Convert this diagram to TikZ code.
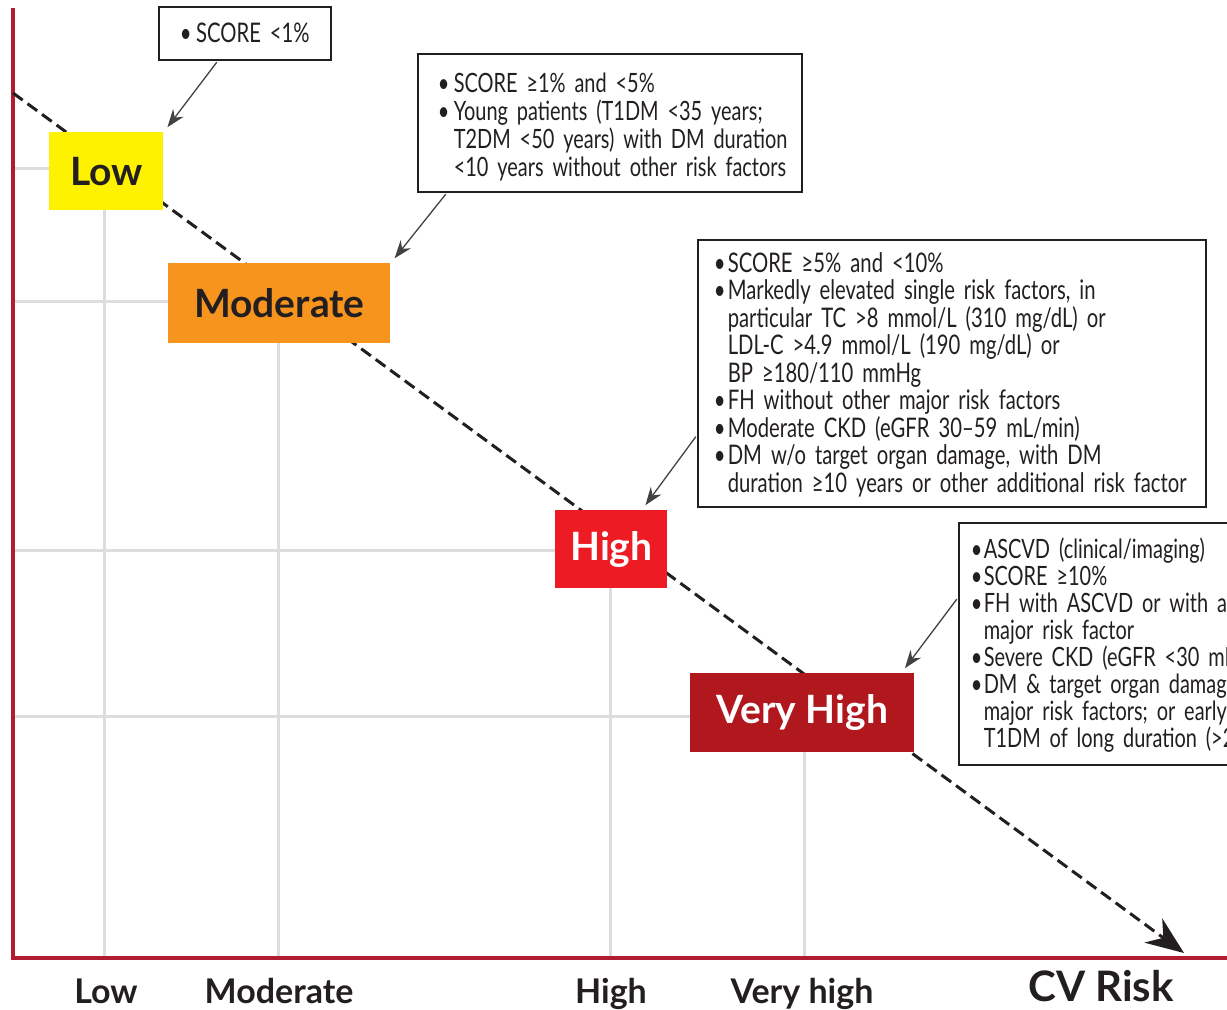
\documentclass[tikz,border=0pt]{standalone}
\usepackage{fontspec}
\setmainfont{Lato}
\newfontfamily\condfont[FakeStretch=0.75]{Lato}
\usetikzlibrary{calc}
\usetikzlibrary{positioning}
\usetikzlibrary{arrows.meta}

\definecolor{axisred}{RGB}{178,28,48}
\definecolor{gridgray}{RGB}{221,221,224}
\definecolor{lowyellow}{RGB}{255,242,0}
\definecolor{modorange}{RGB}{247,148,29}
\definecolor{highred}{RGB}{237,28,36}
\definecolor{vhighred}{RGB}{176,24,30}
\definecolor{inkblack}{RGB}{35,31,32}

\hyphenpenalty=10000
\exhyphenpenalty=10000

% bullet with hanging indent for the criteria boxes
\newcommand{\riskitem}[1][7pt]{\par\hangindent=#1\hangafter=1\noindent\makebox[#1][l]{\textbullet}}

\begin{document}
\begin{tikzpicture}[x=0.5pt,y=0.5pt,yscale=-1,xscale=1,
    gridline/.style={draw=gridgray,line width=1.5pt},
    axisline/.style={draw=axisred,line width=1.6pt},
    trendline/.style={draw=inkblack,line width=1.5pt,dash pattern=on 6pt off 3pt,-{Stealth[length=19pt,width=15pt]}},
    pointer/.style={draw=inkblack!85,line width=0.65pt,shorten <=1pt,shorten >=3pt,-{Stealth[length=9pt,width=6.5pt]}},
    levelbox/.style={anchor=north west,inner sep=0pt,minimum height=39pt,font=\bfseries\fontsize{19.5}{22}\selectfont},
    riskbox/.style={draw=inkblack,line width=0.8pt,fill=white,anchor=north west,inner ysep=0pt,inner xsep=2pt,align=left,text=inkblack,
        font=\condfont\fontsize{13.5}{13.75}\selectfont},
    axislabel/.style={anchor=base,text=inkblack,font=\bfseries\fontsize{17}{19}\selectfont}]
    \useasboundingbox (0,0) rectangle (1227,1009);
    \clip (0,0) rectangle (1227,1009);

    %Grid lines [one per risk level]
    \foreach \gx/\gy in {104/168, 278/301, 610/550, 804/716}
        \draw[gridline] (13,\gy) -| (\gx,958);

    %Axes
    \draw[axisline] (13,8) -- (13,958) -- (1227,958);

    %Dashed risk trend
    \coordinate (trendstart) at (13,93);
    \coordinate (trendend) at (1184,953);
    \draw[trendline] (trendstart) -- (trendend);

    % Level boxes
    \node[levelbox,fill=lowyellow,text=inkblack,minimum width=57pt] (low) at (49,132) {Low};
    \node[levelbox,fill=modorange,text=inkblack,minimum width=111pt,minimum height=40pt] (moderate) at (168,263) {Moderate};
    \node[levelbox,fill=highred,text=white,minimum width=56pt] (high) at (555,510) {High};
    \node[levelbox,fill=vhighred,text=white,minimum width=112pt,minimum height=39.5pt] (veryhigh) at (690,673) {Very High};

    % Text Node
    \node[riskbox,align=center,text width=78pt,inner xsep=4pt,minimum height=26.5pt] (scorelow) at (158,6) {\textbullet\,SCORE <1\%};
    % Text Node
    \node[riskbox,text width=188pt,minimum height=69pt,font=\condfont\fontsize{13.3}{14}\selectfont] (scoremod) at (417,53) {%
        \leftskip=8pt
        \riskitem[8pt]SCORE ≥1\% and <5\%
        \riskitem[8pt]Young patients (T1DM <35 years;\newline T2DM <50 years) with DM duration\newline <10 years without other risk factors\par};
    % Text Node
    \node[riskbox,text width=250pt,minimum height=133.5pt] (scorehigh) at (697,239) {%
        \leftskip=6pt
        \riskitem SCORE ≥5\% and <10\%
        \riskitem Markedly elevated single risk factors, in\newline particular TC >8 mmol/L (310 mg/dL) or\newline LDL-C >4.9 mmol/L (190 mg/dL) or\newline BP ≥180/110 mmHg
        \riskitem FH without other major risk factors
        \riskitem Moderate CKD (eGFR 30–59 mL/min)
        \riskitem DM w/o target organ damage, with DM\newline duration ≥10 years or other additional risk factor\par\vspace*{2.5pt}};
    % Text Node
    \node[riskbox,text width=230pt,minimum height=121pt,font=\condfont\fontsize{13.3}{13.5}\selectfont] (scorevhigh) at (958,522) {%
        \leftskip=4pt
        \riskitem[6.5pt]ASCVD (clinical/imaging)
        \riskitem[6.5pt]SCORE ≥10\%
        \riskitem[6.5pt]FH with ASCVD or with another\newline major risk factor
        \riskitem[6.5pt]Severe CKD (eGFR <30 mL/min)
        \riskitem[6.5pt]DM \& target organ damage\newline major risk factors; or early onset\newline T1DM of long duration (>20 years)\par\vspace*{2pt}};

    %Pointers from criteria to levels
    \draw[pointer] ($(scorelow.south west)+(60,0)$) -- (low.north east);
    \draw[pointer] ($(scoremod.south west)+(30,0)$) -- (moderate.north east);
    \draw[pointer] ($(scorehigh.north west)!0.73!(scorehigh.south west)$) -- ($(high.north west)!0.77!(high.north east)$);
    \draw[pointer] ($(scorevhigh.north west)!0.31!(scorevhigh.south west)$) -- ($(veryhigh.north west)!0.94!(veryhigh.north east)$);

    % Axis labels
    \node[axislabel] (lowlabel) at (106,1003) {Low};
    \node[axislabel] (modlabel) at (279,1003) {Moderate};
    \node[axislabel] (highlabel) at (611,1003) {High};
    \node[axislabel] (vhighlabel) at (802,1003) {Very high};
    \node[axislabel,font=\bfseries\fontsize{21}{23}\selectfont] (risklabel) at (1101,1001) {CV Risk};
\end{tikzpicture}
\end{document}
